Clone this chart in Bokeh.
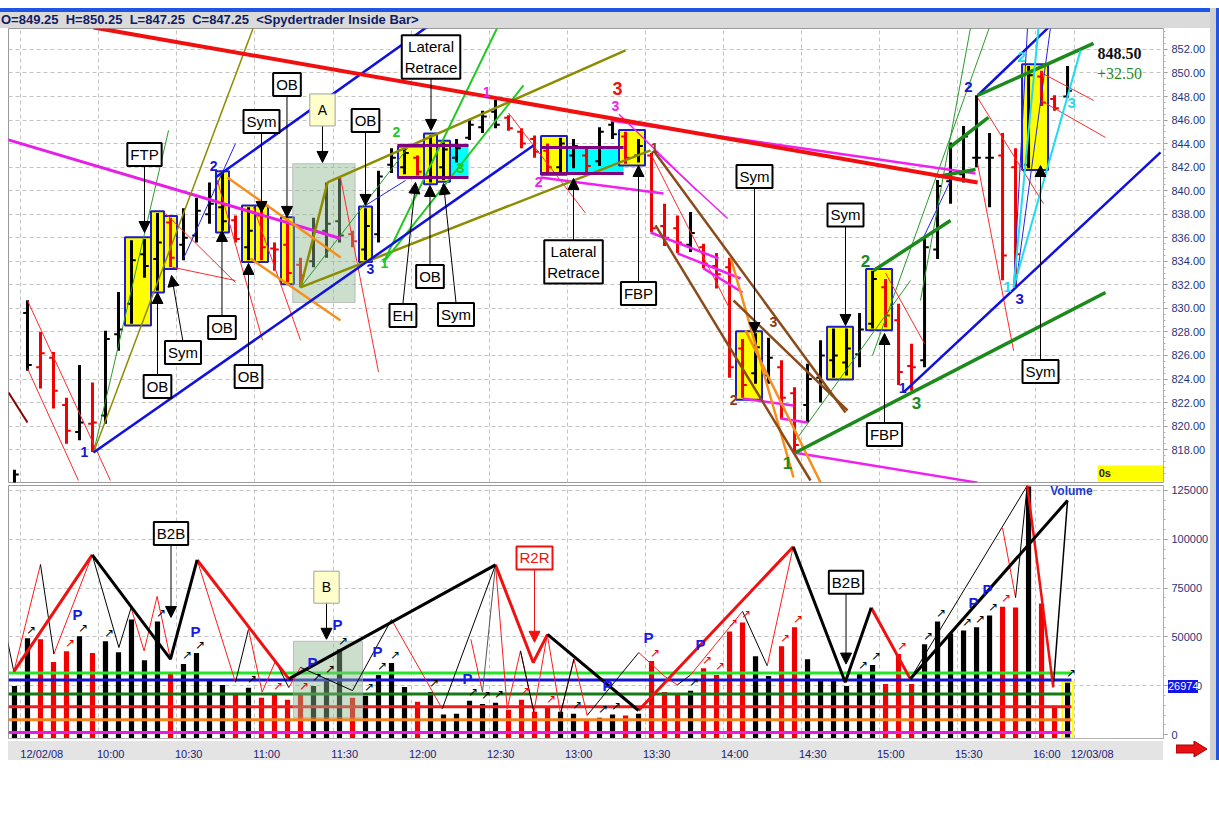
from bokeh.plotting import figure
from bokeh.models import (ColumnDataSource, FixedTicker, NumeralTickFormatter, Label, Arrow,
                          NormalHead, Range1d, Div)
from bokeh.layouts import column
from bokeh.embed import file_html
from bokeh.resources import INLINE
from bokeh.core.properties import value

# ---------------- data ----------------
high = [816.3, 830.7, 828.0, 826.3, 822.4, 825.2, 823.7, 828.1, 831.4, 835.8,
        835.9, 838.1, 837.7, 838.5, 839.4, 840.7, 841.5, 837.9, 838.6, 838.6,
        835.6, 837.6, 834.3, 837.7, 840.7, 841.1, 836.6, 838.5, 841.7, 843.6,
        843.6, 843.0, 844.7, 844.1, 844.4, 846.1, 846.8, 847.7, 846.4, 845.3,
        844.7, 844.0, 844.5, 844.4, 843.6, 845.4, 846.1, 845.0, 844.4, 843.2,
        838.9, 837.9, 838.2, 835.5, 834.7, 834.3, 827.4, 827.9, 827.5, 825.6,
        823.3, 825.3, 827.3, 828.3, 828.3, 829.6, 833.2, 832.5, 830.4, 827.0,
        836.0, 840.9, 844.1, 845.5, 848.1, 844.9, 844.9, 843.6, 850.6, 850.2,
        848.1, 850.6]
low = [813.0, 824.7, 823.2, 821.5, 818.5, 818.8, 817.8, 820.2, 826.4, 828.7,
       832.6, 831.5, 833.5, 834.1, 835.6, 837.2, 836.6, 835.6, 834.1, 834.1,
       833.2, 832.2, 831.8, 833.5, 834.3, 835.6, 835.2, 834.1, 835.6, 841.5,
       841.4, 841.3, 840.7, 840.9, 842.4, 844.3, 844.9, 845.3, 845.1, 843.6,
       842.8, 841.5, 841.5, 841.9, 841.5, 842.1, 844.4, 842.3, 842.4, 836.5,
       835.3, 834.7, 834.8, 833.4, 831.7, 824.1, 822.4, 823.6, 823.6, 820.6,
       817.7, 820.3, 822.0, 824.1, 824.3, 825.0, 828.3, 828.4, 823.5, 823.0,
       825.0, 834.2, 838.9, 840.7, 842.0, 838.6, 832.4, 831.8, 841.9, 847.2,
       846.8, 847.9]
open_ = [814.6, 829.6, 825.0, 825.8, 821.8, 819.5, 820.2, 820.9, 827.8, 830.4,
         834.6, 834.2, 837.3, 835.4, 836.2, 838.0, 838.6, 837.5, 835.2, 837.9,
         835.1, 835.4, 833.7, 834.0, 836.6, 837.4, 836.3, 835.0, 836.3, 842.2,
         842.0, 842.8, 841.2, 842.0, 842.8, 844.5, 845.4, 846.7, 846.2, 845.0,
         844.4, 843.4, 842.0, 843.0, 843.0, 842.5, 845.6, 844.6, 843.0, 843.0,
         837.0, 836.8, 835.4, 835.2, 833.6, 833.5, 826.6, 824.5, 824.3, 825.0,
         822.8, 821.8, 824.1, 825.6, 825.4, 826.1, 828.7, 831.8, 829.0, 825.1,
         825.6, 835.0, 840.8, 841.4, 842.8, 842.8, 843.0, 842.0, 842.2, 849.7,
         847.8, 848.0]
close = [815.9, 825.2, 826.2, 823.0, 819.6, 820.3, 820.3, 827.4, 828.2, 834.1,
         833.6, 835.6, 834.3, 836.0, 838.3, 838.9, 837.4, 835.9, 836.6, 835.2,
         835.0, 833.0, 832.8, 836.5, 837.2, 836.2, 835.7, 837.0, 841.2, 842.8,
         843.2, 841.6, 843.9, 843.5, 843.6, 845.6, 846.3, 845.6, 845.3, 844.0,
         843.3, 842.0, 844.0, 843.8, 842.1, 845.0, 844.8, 842.8, 843.8, 836.8,
         836.0, 835.6, 836.4, 833.8, 832.9, 825.0, 823.5, 826.7, 825.8, 822.4,
         818.4, 824.0, 826.0, 826.0, 826.6, 828.2, 832.5, 829.4, 824.6, 825.0,
         835.2, 840.4, 841.1, 844.6, 842.8, 842.8, 834.5, 834.6, 849.8, 847.5,
         847.0, 848.5]
direction = [1, 1, -1, -1, -1, 1, -1, 1, 1, 1,
             1, 1, -1, 1, 1, 1, 1, -1, 1, -1,
             -1, -1, -1, 1, 1, 1, -1, 1, 1, 1,
             1, -1, 1, 1, 1, 1, 1, 1, -1, -1,
             -1, -1, 1, 1, -1, 1, 1, -1, 1, -1,
             -1, -1, 1, -1, -1, -1, -1, 1, 1, -1,
             -1, 1, 1, 1, 1, 1, 1, -1, -1, -1,
             1, 1, 1, 1, 1, 1, -1, -1, 1, -1,
             -1, 1]
volume = [24900, 49300, 48800, 37100, 42700, 50300, 41700, 47800, 42200, 58900,
          38100, 57900, 31000, 36100, 41700, 27400, 25400, 20800, 23900, 18800,
          20300, 17800, 20300, 24900, 29000, 43700, 18800, 19800, 30500, 36600,
          24400, 16800, 21800, 10200, 10700, 17300, 15700, 16300, 12700, 17800,
          11700, 13700, 11700, 10700, 7600, 8600, 10200, 9700, 10700, 37600,
          21800, 20300, 22400, 34000, 30500, 52800, 57400, 40100, 30000, 45200,
          54900, 38600, 28000, 27500, 24900, 31000, 35600, 25900, 41200, 25900,
          46200, 57900, 51800, 53300, 54900, 61000, 65500, 65000, 127000, 67100,
          14700, 26974]

price_ticks = [818, 820, 822, 824, 826, 828, 830, 832, 834, 836, 838, 840, 842,
               844, 846, 848, 850, 852]
volume_ticks = [0, 25000, 50000, 75000, 100000, 125000]
time_labels = ["12/02/08", "10:00", "10:30", "11:00", "11:30", "12:00", "12:30", "13:00",
               "13:30", "14:00", "14:30", "15:00", "15:30", "16:00", "12/03/08"]
time_label_pos = [2.1, 7.4, 13.4, 19.4, 25.4, 31.4, 37.4, 43.4, 49.4, 55.4, 61.4, 67.4,
                  73.4, 79.4, 82.9]
grid_x = [0.5, 6.5, 12.5, 18.5, 24.5, 30.5, 36.5, 42.5, 48.5, 54.5, 60.5, 66.5, 72.5,
          78.5, 81.5]

vol_levels = [31500, 27900, 20800, 14200, 7600, 1000]
vol_level_colors = ["#22e622", "#1414d2", "#157a15", "#ee1c1c", "#f5841e", "#e51ee5"]

yellow_groups = [(9, 10), (11, 11), (12, 12), (16, 16), (18, 18), (19, 19), (21, 21),
                 (27, 27), (30, 31), (32, 32), (33, 33), (41, 42), (47, 48), (56, 57),
                 (63, 64), (66, 67), (78, 79)]

header_text = "O=849.25&nbsp; H=850.25&nbsp; L=847.25&nbsp; C=847.25&nbsp; &lt;Spydertrader Inside Bar&gt;"

UP, DN = "#000000", "#f00000"

# ---------------- figures ----------------
XR = Range1d(-0.46, 88.38)
FONT = "Liberation Sans"
FIG_W = 1218

p = figure(width=FIG_W, height=456, output_backend="svg", toolbar_location=None, title=None,
           x_range=XR, y_range=Range1d(815.21, 853.78), y_axis_location="right",
           min_border_left=8, min_border_right=55, min_border_top=0, min_border_bottom=2,
           background_fill_color="white", border_fill_color="white")
p.outline_line_color = "#9a9a9a"
p.xaxis.visible = False
p.yaxis.ticker = FixedTicker(ticks=price_ticks,
                             minor_ticks=[816 + 0.5 * k for k in range(0, 76)])
p.yaxis.formatter = NumeralTickFormatter(format="0.00")
p.yaxis.major_label_text_font = FONT
p.yaxis.major_label_text_font_size = "11px"
p.yaxis.major_label_text_color = "#26337c"
p.yaxis.axis_line_color = "#b0b0b0"
p.yaxis.major_tick_line_color = "#909090"
p.yaxis.minor_tick_line_color = "#b0b0b0"
p.yaxis.major_tick_out = 4
p.yaxis.minor_tick_out = 2
p.yaxis.major_tick_in = 0
p.yaxis.minor_tick_in = 0
p.yaxis.major_label_standoff = 4
p.ygrid.ticker = FixedTicker(ticks=price_ticks)
p.xgrid.ticker = FixedTicker(ticks=grid_x)
for g in (p.xgrid, p.ygrid):
    g.grid_line_color = "#c4c4c4"
    g.grid_line_dash = "4 3"

p.quad(left=[29.46, 40.46], right=[34.92, 46.85], bottom=[841.12, 841.46],
       top=[844.01, 843.67], fill_color="#00ffff", line_color=None)

yl, yr, yt, yb = [], [], [], []
for a, b in yellow_groups:
    yl.append(a - 0.5)
    yr.append(b + 0.5)
    yt.append(max(high[a:b + 1]) + 0.15)
    yb.append(min(low[a:b + 1]) - 0.15)
p.quad(left=yl, right=yr, top=yt, bottom=yb, fill_color="#ffff00",
       line_color="#1c1cc8", line_width=2)

p.quad(left=[83.3], right=[88.38], top=[816.66], bottom=[815.3], fill_color="#ffff00",
       line_color=None)

idx = list(range(len(high)))
cols = [UP if d > 0 else DN for d in direction]
src = ColumnDataSource(dict(x=idx, h=high, l=low, o=open_, c=close, col=cols,
                            xo=[i - 0.33 for i in idx], xc=[i + 0.33 for i in idx]))
p.segment(x0="x", y0="l", x1="x", y1="h", color="col", line_width=3, source=src)
p.segment(x0="xo", y0="o", x1="x", y1="o", color="col", line_width=2, source=src)
p.segment(x0="x", y0="c", x1="xc", y1="c", color="col", line_width=2, source=src)

p.quad(left=[21.4], right=[26.2], bottom=[830.5], top=[842.3], fill_color="#8fb98f",
       fill_alpha=0.45, line_color="#a0a0a0", line_alpha=0.6)

line_groups = [
    ("#2a9a2a", 1, [(6.08, 817.76, 11.85, 845.12), (69.69, 830.67, 73.54, 853.87),
                    (60.08, 818.78, 68.92, 832.37), (22.0, 831.78, 30.5, 844.0),
                    (66.0, 826.0, 75.0, 853.9)]),
    ("#ff2a2a", 1, [(1.0, 830.67, 7.38, 815.38), (1.0, 824.9, 4.92, 815.38),
                    (11.62, 838.07, 17.0, 832.2), (12.15, 833.5, 17.0, 832.37),
                    (15.6, 840.9, 19.08, 827.3), (18.38, 838.6, 22.0, 827.3),
                    (25.08, 841.1, 28.0, 824.6), (38.0, 846.6, 43.92, 838.1),
                    (74.08, 847.9, 79.15, 838.9), (78.92, 850.05, 83.0, 847.67),
                    (78.92, 847.67, 83.92, 844.52), (74.08, 842.3, 76.85, 826.4),
                    (49.0, 843.0, 55.0, 830.0), (67.0, 833.0, 70.0, 827.0)]),
    ("#2222e0", 1, [(13.0, 834.24, 17.0, 844.0), (27.0, 838.75, 30.08, 840.87),
                    (69.92, 836.03, 72.0, 840.87), (76.85, 831.78, 77.92, 853.87),
                    (77.0, 831.78, 79.69, 853.87)]),
    ("#f020f0", 1.5, [(49.46, 843.16, 54.85, 837.64), (46.5, 846.5, 52.5, 840.0)]),
    ("#f020f0", 2.5, [(48.92, 836.45, 54.15, 834.24), (51.0, 834.67, 55.85, 832.54),
                      (53.0, 833.4, 56.0, 831.35), (56.0, 822.35, 59.92, 821.75),
                      (58.92, 820.65, 61.0, 820.3), (59.92, 817.76, 74.08, 815.2),
                      (40.46, 841.12, 49.92, 839.77), (45.85, 845.97, 73.92, 841.46)]),
    ("#e61ee6", 3, [(-1.08, 844.52, 25.08, 835.94)]),
    ("#8c8c00", 1.5, [(6.08, 817.76, 18.38, 853.87)]),
    ("#8c8c00", 2.5, [(24.08, 840.70, 47.0, 851.92), (22.0, 831.78, 48.92, 843.42),
                      (22.0, 831.78, 24.08, 840.70)]),
    ("#f5901e", 2.5, [(16.38, 841.12, 25.08, 834.33), (18.15, 834.24, 25.08, 828.98),
                      (55.08, 834.33, 59.92, 815.64), (56.23, 828.13, 62.0, 815.21)]),
    ("#8b4a1a", 2.5, [(49.15, 843.42, 63.92, 821.16), (49.31, 837.05, 61.23, 815.38),
                      (55.31, 830.67, 64.08, 821.33)]),
    ("#22c822", 2, [(28.38, 833.9, 37.15, 853.87), (28.38, 833.9, 39.15, 848.94)]),
    ("#800080", 3, [(29.46, 843.84, 34.92, 843.84), (29.46, 841.12, 34.92, 841.12),
                    (40.46, 843.67, 46.85, 843.67), (40.46, 841.46, 46.85, 841.46)]),
    ("#800000", 2, [(-0.46, 822.86, 1.0, 820.3)]),
    ("#1010e0", 2.5, [(6.08, 817.76, 39.92, 843.84), (15.46, 841.12, 32.0, 854.12),
                      (68.38, 822.86, 88.15, 843.25), (74.08, 848.09, 79.54, 853.87)]),
    ("#1b8a1b", 3.5, [(60.08, 817.76, 83.92, 831.35), (74.08, 848.09, 83.0, 852.51),
                      (66.08, 833.22, 72.0, 837.47), (71.0, 841.2, 73.92, 841.8),
                      (71.92, 843.67, 74.92, 846.22)]),
    ("#20dcf0", 2, [(76.85, 831.78, 82.0, 851.92), (76.85, 831.78, 78.77, 853.87)]),
    ("#f01010", 4, [(6.08, 853.87, 74.08, 840.70)]),
]
for colr, w, segs in line_groups:
    p.segment(x0=[s[0] for s in segs], y0=[s[1] for s in segs],
              x1=[s[2] for s in segs], y1=[s[3] for s in segs],
              line_color=colr, line_width=w)

counts = [("1", 5.38, 817.76, "#1414d2", "14px"), ("2", 15.31, 842.06, "#1414d2", "14px"),
          ("3", 27.38, 833.39, "#1414d2", "14px"), ("1", 28.46, 833.9, "#22c822", "14px"),
          ("2", 29.38, 844.95, "#22c822", "14px"), ("3", 34.31, 841.89, "#22c822", "15px"),
          ("1", 36.31, 848.35, "#f020f0", "14px"), ("2", 40.31, 840.70, "#f020f0", "14px"),
          ("3", 46.23, 847.16, "#f020f0", "14px"), ("3", 46.38, 848.69, "#f01010", "18px"),
          ("1", 49.23, 843.67, "#8b3a1a", "14px"), ("3", 58.38, 828.81, "#8b3a1a", "14px"),
          ("2", 55.31, 822.18, "#8b3a1a", "14px"), ("1", 59.46, 816.83, "#1b8a1b", "17px"),
          ("2", 65.46, 834.07, "#1b8a1b", "17px"), ("1", 68.31, 823.2, "#1414d2", "14px"),
          ("3", 69.38, 822.0, "#1b8a1b", "17px"), ("2", 73.38, 848.77, "#1414d2", "15px"),
          ("1", 76.38, 831.78, "#20dcf0", "15px"), ("3", 77.31, 830.76, "#1414d2", "15px"),
          ("2", 77.46, 851.32, "#20dcf0", "15px"), ("3", 81.31, 847.41, "#20dcf0", "15px")]
csrc = ColumnDataSource(dict(t=[c[0] for c in counts], x=[c[1] for c in counts],
                             y=[c[2] for c in counts], c=[c[3] for c in counts],
                             s=[c[4] for c in counts]))
p.text(x="x", y="y", text="t", text_color="c", text_font_size="s",
       text_font=value(FONT), text_font_style="bold", text_align="center",
       text_baseline="middle", source=csrc)

price_notes = [
    ("FTP", 10.0, 843.08, 842.14, 10.0, 836.45),
    ("Sym", 19.0, 845.88, 844.95, 19.0, 838.15),
    ("OB", 20.96, 849.03, 848.09, 20.96, 837.73),
    ("OB", 27.0, 845.97, 844.95, 27.0, 838.75),
    ("Lateral\nRetrace", 32.04, 851.36, 849.62, 32.04, 845.12),
    ("EH", 29.88, 829.40, 830.42, 30.85, 840.70),
    ("OB", 31.96, 832.71, 833.65, 31.96, 840.45),
    ("Sym", 33.96, 829.49, 830.50, 33.0, 840.62),
    ("Lateral\nRetrace", 43.0, 833.95, 835.69, 43.0, 841.04),
    ("FBP", 48.0, 831.27, 832.2, 48.0, 842.14),
    ("Sym", 56.92, 841.21, 840.28, 56.92, 827.87),
    ("Sym", 63.92, 837.94, 836.96, 63.92, 828.55),
    ("FBP", 66.92, 819.29, 820.22, 66.92, 827.87),
    ("Sym", 78.92, 824.64, 825.58, 78.92, 842.14),
    ("OB", 11.0, 823.37, 824.30, 11.0, 831.35),
    ("Sym", 12.96, 826.26, 827.19, 12.08, 832.8),
    ("OB", 15.96, 828.38, 829.32, 15.96, 836.62),
    ("OB", 18.0, 824.22, 825.15, 18.0, 833.82),
]


def note(fig, text, x, y, ay0, ax1, ay1, fill="white", border="black", tcolor="black",
         bw=2, pad=3, size="15px", acolor="black"):
    fig.add_layout(Arrow(x_start=x, y_start=ay0, x_end=ax1, y_end=ay1,
                         line_color=acolor, line_width=1,
                         end=NormalHead(size=11, fill_color=acolor, line_color=acolor)))
    fig.add_layout(Label(x=x, y=y, text=text, text_align="center", text_baseline="middle",
                         text_font=FONT, text_font_size=size, text_color=tcolor,
                         background_fill_color=fill, border_line_color=border,
                         border_line_width=bw, padding=pad))


for t, x, y, ay0, ax1, ay1 in price_notes:
    note(p, t, x, y, ay0, ax1, ay1)
note(p, "A", 23.69, 846.86, 845.63, 23.69, 842.4, fill="#ffffcc", border="#a0a0a0",
     bw=1, pad=8, size="14px")

p.add_layout(Label(x=85.0, y=851.66, text="848.50", text_align="center",
                   text_baseline="middle", text_font="Liberation Serif",
                   text_font_size="16px", text_font_style="bold", text_color="#111111"))
p.add_layout(Label(x=85.0, y=849.96, text="+32.50", text_align="center",
                   text_baseline="middle", text_font="Liberation Serif",
                   text_font_size="16px", text_color="#1e8c1e"))
p.add_layout(Label(x=83.4, y=816.05, text="0s", text_align="left", text_baseline="middle",
                   text_font=FONT, text_font_size="11px", text_font_style="bold",
                   text_color="#222222"))

# ---------------- volume panel ----------------
VB = -2030
v = figure(width=FIG_W, height=278, output_backend="svg", toolbar_location=None, title=None,
           x_range=XR, y_range=Range1d(VB, 127540), y_axis_location="right",
           min_border_left=8, min_border_right=55, min_border_top=1, min_border_bottom=22,
           background_fill_color="white", border_fill_color="white", border_fill_alpha=0)
v.outline_line_color = "#9a9a9a"
v.yaxis.ticker = FixedTicker(ticks=volume_ticks,
                             minor_ticks=[5000 * k for k in range(0, 26)])
v.yaxis.formatter = NumeralTickFormatter(format="0")
v.yaxis.major_label_text_font = FONT
v.yaxis.major_label_text_font_size = "11px"
v.yaxis.major_label_text_color = "#26337c"
v.yaxis.axis_line_color = "#b0b0b0"
v.yaxis.major_tick_line_color = "#909090"
v.yaxis.minor_tick_line_color = "#b0b0b0"
v.yaxis.major_tick_out = 4
v.yaxis.minor_tick_out = 2
v.yaxis.major_tick_in = 0
v.yaxis.minor_tick_in = 0
v.yaxis.major_label_standoff = 4
v.xaxis.ticker = FixedTicker(ticks=time_label_pos)
v.xaxis.major_label_overrides = {pos: lab for pos, lab in zip(time_label_pos, time_labels)}
v.xaxis.major_label_text_font = FONT
v.xaxis.major_label_text_font_size = "11px"
v.xaxis.major_label_text_color = "#1a237a"
v.xaxis.major_tick_line_color = None
v.xaxis.minor_tick_line_color = None
v.xaxis.axis_line_color = "#b0b0b0"
v.xaxis.major_label_standoff = 3
v.ygrid.ticker = FixedTicker(ticks=volume_ticks[1:])
v.xgrid.ticker = FixedTicker(ticks=grid_x)
for g in (v.xgrid, v.ygrid):
    g.grid_line_color = "#c4c4c4"
    g.grid_line_dash = "4 3"

v.vbar(x=idx, top=volume, bottom=VB, width=0.4, fill_color=cols, line_color=None)
v.quad(left=[80.6], right=[81.4], top=[volume[-1]], bottom=[VB], fill_color=None,
       line_color="#ffff00", line_width=2)

for lvl, colr in zip(vol_levels, vol_level_colors):
    v.line(x=[-0.46, 81.3], y=[lvl, lvl], line_color=colr, line_width=3)

v.quad(left=[21.46], right=[26.77], bottom=[8640], top=[47760], fill_color="#8fb98f",
       fill_alpha=0.45, line_color="#a0a0a0", line_alpha=0.6)

zig = [
    ("#ff1a1a", 1, [(-0.05, 32200), (2.0, 87100)]),
    ("#ff1a1a", 1, [(3.03, 41200), (5.98, 92000)]),
    ("#000000", 1, [(-0.9, 60000), (-0.05, 32200)]),
    ("#000000", 1, [(2.0, 87100), (3.03, 41200)]),
    ("#000000", 1, [(5.98, 92000), (8.03, 44560), (8.97, 64900)]),
    ("#ff1a1a", 1, [(8.97, 64900), (9.97, 42840), (10.97, 70780), (12.0, 38610)]),
    ("#ff1a1a", 1, [(14.05, 89400), (17.0, 26780)]),
    ("#000000", 1, [(17.0, 26780), (18.0, 53900)]),
    ("#ff1a1a", 1, [(18.0, 53900), (19.05, 21700), (20.08, 37750)]),
    ("#000000", 1, [(20.08, 37750), (21.1, 24000)]),
    ("#ff1a1a", 1, [(21.1, 24000), (22.0, 34400)]),
    ("#000000", 1, [(22.0, 34400), (26.0, 22500), (29.0, 58900)]),
    ("#ff1a1a", 1, [(29.0, 58900), (32.9, 13200)]),
    ("#000000", 1, [(32.9, 13200), (37.0, 86900)]),
    ("#ff1a1a", 1, [(35.1, 48800), (36.0, 21700)]),
    ("#555555", 1, [(36.0, 21700), (37.0, 86900)]),
    ("#ff1a1a", 1, [(37.0, 86900), (37.9, 13200), (38.92, 42840), (39.95, 11530),
                    (40.98, 51320), (42.0, 10670), (43.03, 38620), (44.05, 9800)]),
    ("#000000", 1, [(38.92, 42840), (39.95, 11530)]),
    ("#000000", 1, [(42.0, 10670), (43.03, 38620)]),
    ("#000000", 1, [(44.05, 9800), (48.02, 42000)]),
    ("#ff1a1a", 1, [(48.02, 42000), (49.95, 30120), (50.98, 25400)]),
    ("#000000", 1, [(50.98, 25400), (52.0, 30500)]),
    ("#ff1a1a", 1, [(52.0, 30500), (56.0, 63100)]),
    ("#000000", 1, [(56.0, 63100), (57.9, 35200)]),
    ("#ff1a1a", 1, [(57.9, 35200), (59.9, 96200)]),
    ("#ff1a1a", 1, [(76.0, 105700), (77.0, 70100)]),
    ("#000000", 1, [(77.0, 70100), (77.9, 127500)]),
    ("#000000", 1, [(68.9, 28500), (77.9, 127500)]),
    ("#000000", 1.5, [(79.9, 24200), (81.0, 119900)]),
    ("#f01010", 3, [(-0.05, 32200), (5.98, 92000)]),
    ("#f01010", 3, [(14.05, 89400), (21.1, 28500)]),
    ("#f01010", 3, [(37.0, 86900), (39.9, 36900), (41.0, 51300)]),
    ("#f01010", 3, [(48.0, 12300), (59.9, 96200)]),
    ("#f01010", 3, [(65.9, 64900), (68.9, 28500)]),
    ("#f01010", 2.5, [(77.9, 127500), (79.9, 24200)]),
    ("#000000", 3, [(5.98, 92000), (12.0, 38600), (14.05, 89400)]),
    ("#000000", 3, [(21.1, 28500), (37.0, 86900)]),
    ("#000000", 3, [(41.0, 51300), (48.0, 12300)]),
    ("#000000", 3, [(59.9, 96200), (63.9, 26800), (65.9, 64900)]),
    ("#000000", 3, [(68.9, 28500), (81.0, 119900)]),
]
for colr, w, pts in zig:
    v.line(x=[q[0] for q in pts], y=[q[1] for q in pts], line_color=colr, line_width=w)

arrow_bars = [1, 4, 5, 7, 11, 13, 14, 18, 20, 22, 23, 24, 25, 27, 28, 29, 32, 35, 36, 37,
              39, 41, 43, 45, 46, 49, 52, 53, 54, 55, 56, 59, 60, 65, 66, 68, 70, 71, 73, 74,
              75, 76, 81]
asrc = ColumnDataSource(dict(x=[i - 0.1 for i in arrow_bars],
                             y=[volume[i] + 800 for i in arrow_bars],
                             c=[cols[i] for i in arrow_bars],
                             t=["\u2197"] * len(arrow_bars)))
v.text(x="x", y="y", text="t", text_color="c", text_font_size="12px",
       text_font=value("DejaVu Sans"), text_align="left", text_baseline="bottom",
       source=asrc)

p_marks = [(4.85, 61480), (13.92, 52840), (24.85, 56400), (22.92, 37090), (27.92, 42680),
           (48.77, 49790), (52.77, 46240), (34.85, 28450), (45.62, 24900), (73.77, 67580),
           (74.85, 74180)]
v.text(x=[q[0] for q in p_marks], y=[q[1] for q in p_marks], text=["P"] * len(p_marks),
       text_color="#1a1ae6", text_font_size="15px", text_font=value(FONT),
       text_font_style="bold", text_align="center", text_baseline="middle")

note(v, "B2B", 12.04, 102900, 97550, 12.04, 59960)
note(v, "B", 24.0, 75450, 68090, 24.0, 48780, fill="#ffffcc", border="#a0a0a0", bw=1,
     pad=8, size="14px")
note(v, "R2R", 40.0, 90440, 84850, 40.0, 47250, border="#f01010", tcolor="#f01010",
     acolor="#f01010")
note(v, "B2B", 63.96, 78000, 73170, 63.96, 36080)

v.add_layout(Label(x=81.3, y=124500, text="Volume", text_align="center",
                   text_baseline="middle", text_font=FONT, text_font_size="12px",
                   text_font_style="bold", text_color="#1a3ad0"))

# ---------------- page furniture ----------------
blue_bar = Div(width=1216, height=4, margin=(8, 0, 0, 0),
               styles={"background-color": "#1e55e6"})
header = Div(text=header_text, width=1216, height=16, margin=(0, 0, 0, 0),
             styles={"background-color": "#dadada", "color": "#101c66",
                     "font-family": "Liberation Sans", "font-size": "13px",
                     "font-weight": "bold", "line-height": "16px", "overflow": "hidden",
                     "white-space": "nowrap", "padding-left": "1px"})
vol_tag = Div(text="26974", width=30, height=13, margin=(0, 0, 0, 0),
              styles={"position": "absolute", "left": "1168px", "top": "680px",
                      "background-color": "#1414e6", "color": "white",
                      "font-family": "Liberation Sans", "font-size": "11px",
                      "line-height": "13px", "z-index": "5"})
red_arrow = Div(text='<svg width="32" height="16"><polygon points="0,4 18,4 18,0 31,8 18,16 '
                     '18,12 0,12" fill="#e81010" stroke="#a00000" stroke-width="1"/></svg>',
                width=32, height=16, margin=(0, 0, 0, 0),
                styles={"position": "absolute", "left": "1176px", "top": "741px",
                        "z-index": "5"})
axis_strip = Div(width=1155, height=19, margin=(0, 0, 0, 0),
                 styles={"position": "absolute", "left": "8px", "top": "741px",
                         "background-color": "#e4e4e4", "z-index": "-1"})
right_strip = Div(width=9, height=752, margin=(0, 0, 0, 0),
                  styles={"position": "absolute", "left": "1210px", "top": "8px",
                          "background-color": "#d0d0d0",
                          "border-right": "3px solid #1e55e6", "z-index": "5"})

layout = column(blue_bar, header, p, v, vol_tag, red_arrow, axis_strip, right_strip,
                spacing=0)
open("out.html", "w").write(file_html(layout, INLINE))
